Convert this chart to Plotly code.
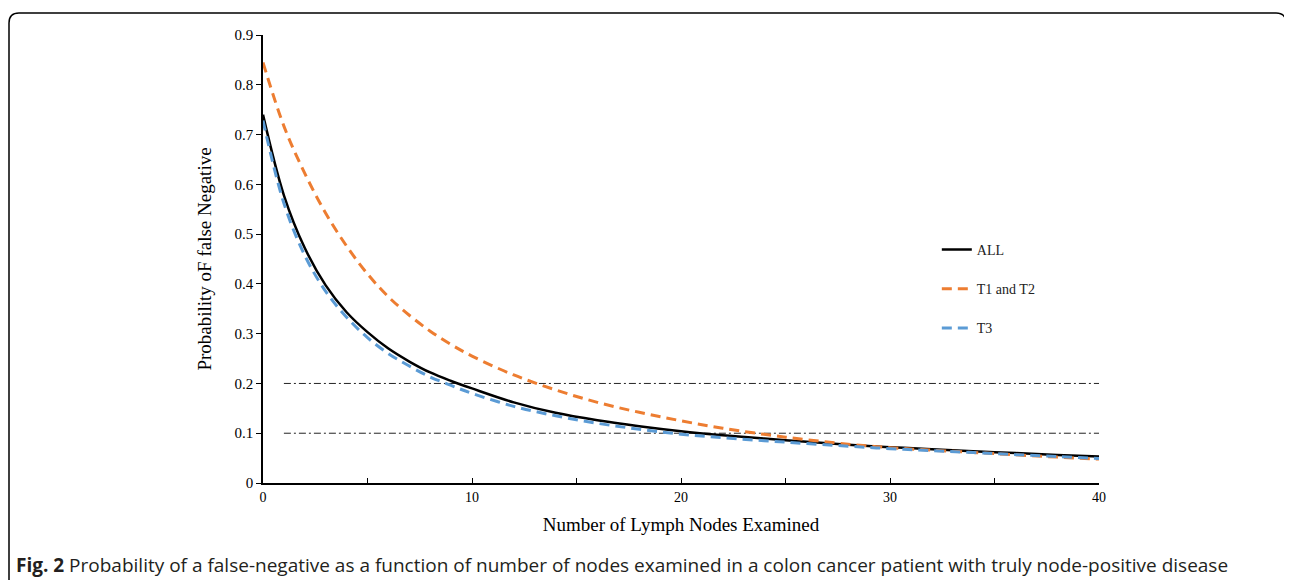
import plotly.graph_objects as go

nodes = [0, 1, 2, 3, 4, 5, 6, 7, 8, 9, 10, 12, 14, 16, 18, 20, 22, 25, 28, 30, 32, 35, 38, 40]
p_all = [0.740, 0.578, 0.472, 0.397, 0.343, 0.303, 0.270, 0.244, 0.222, 0.205, 0.190, 0.162,
         0.141, 0.126, 0.114, 0.104, 0.096, 0.086, 0.077, 0.072, 0.068, 0.062, 0.0565, 0.053]
p_t12 = [0.845, 0.717, 0.622, 0.542, 0.476, 0.420, 0.374, 0.337, 0.305, 0.278, 0.255, 0.217,
         0.187, 0.162, 0.142, 0.125, 0.110, 0.092, 0.078, 0.071, 0.066, 0.059, 0.052, 0.048]
p_t3 = [0.728, 0.562, 0.457, 0.385, 0.333, 0.292, 0.260, 0.235, 0.213, 0.196, 0.180, 0.154,
        0.135, 0.120, 0.108, 0.098, 0.091, 0.082, 0.074, 0.069, 0.065, 0.059, 0.053, 0.049]
ref_x = [1, 40]
ref_levels = [0.2, 0.1]

x_ticks = [0, 10, 20, 30, 40]
y_ticks = [0, 0.1, 0.2, 0.3, 0.4, 0.5, 0.6, 0.7, 0.8, 0.9]

fig = go.Figure()
for lvl in ref_levels:
    fig.add_trace(go.Scatter(x=ref_x, y=[lvl, lvl], mode="lines", showlegend=False,
                             hoverinfo="skip",
                             line=dict(color="#222222", width=1, dash="7px,3px,2px,3px")))

fig.add_trace(go.Scatter(x=nodes, y=p_all, name="ALL", mode="lines", legendgroup="a",
                         line=dict(color="#000000", width=2.5, shape="spline", smoothing=1)))
fig.add_trace(go.Scatter(x=nodes, y=p_t12, name="T1 and T2", mode="lines", legendgroup="b",
                         line=dict(color="#ED7D31", width=3, dash="10px,6px", shape="spline", smoothing=1)))
fig.add_trace(go.Scatter(x=nodes, y=p_t3, name="T3", mode="lines", legendgroup="c",
                         line=dict(color="#5B9BD5", width=3, dash="10px,6px", shape="spline", smoothing=1)))

serif = "Liberation Serif, Times New Roman, serif"

# plot area in page pixels (page has an 8px body margin)
L, R, T, B = 263, 1099, 35, 483
def px(xp):
    return (xp - L) / (R - L)
def py(yp):
    return (B - yp) / (B - T)
left, right, top, bot, r = 9, 1286, 13, 600, 10
path = (f"M {px(left)},{py(bot)} L {px(left)},{py(top + r)} "
        f"Q {px(left)},{py(top)} {px(left + r)},{py(top)} "
        f"L {px(right - r)},{py(top)} Q {px(right)},{py(top)} {px(right)},{py(top + r)} "
        f"L {px(right)},{py(bot)}")

fig.update_layout(
    width=1284, height=572,
    margin=dict(l=255, r=193, t=27, b=97),
    plot_bgcolor="white", paper_bgcolor="white",
    font=dict(family=serif, size=15, color="#000000"),
    showlegend=True,
    legend=dict(x=0.806, y=0.556, xanchor="left", yanchor="top",
                bgcolor="rgba(0,0,0,0)", tracegroupgap=18,
                font=dict(family=serif, size=14, color="#222222")),
    xaxis=dict(range=[0, 40], tickvals=x_ticks, ticks="inside", ticklen=5, tickwidth=1,
               tickcolor="#000", showline=True, linecolor="#000", linewidth=1.5,
               showgrid=False, zeroline=False,
               minor=dict(dtick=5, ticks="inside", ticklen=5, tickcolor="#000", tickwidth=1),
               title=dict(text="Number of Lymph Nodes Examined", font=dict(size=19), standoff=14),
               tickfont=dict(size=14)),
    yaxis=dict(range=[0, 0.9], tickvals=y_ticks, ticks="outside", ticklen=5, tickwidth=1,
               tickcolor="#000", showline=True, linecolor="#000", linewidth=1.5,
               showgrid=False, zeroline=False,
               title=dict(text="Probability oF false Negative", font=dict(size=19), standoff=18),
               tickfont=dict(size=15)),
    shapes=[dict(type="path", xref="paper", yref="paper", path=path,
                 line=dict(color="#000", width=1.5), fillcolor="rgba(0,0,0,0)")],
    annotations=[dict(xref="paper", yref="paper", x=px(14), y=py(565), xanchor="left",
                      yanchor="middle", showarrow=False,
                      text="<b>Fig. 2</b> Probability of a false-negative as a function of number of nodes examined in a colon cancer patient with truly node-positive disease",
                      font=dict(family="Open Sans, Noto Sans, sans-serif", size=19, color="#231f20"))],
)

fig.write_html("out.html")
